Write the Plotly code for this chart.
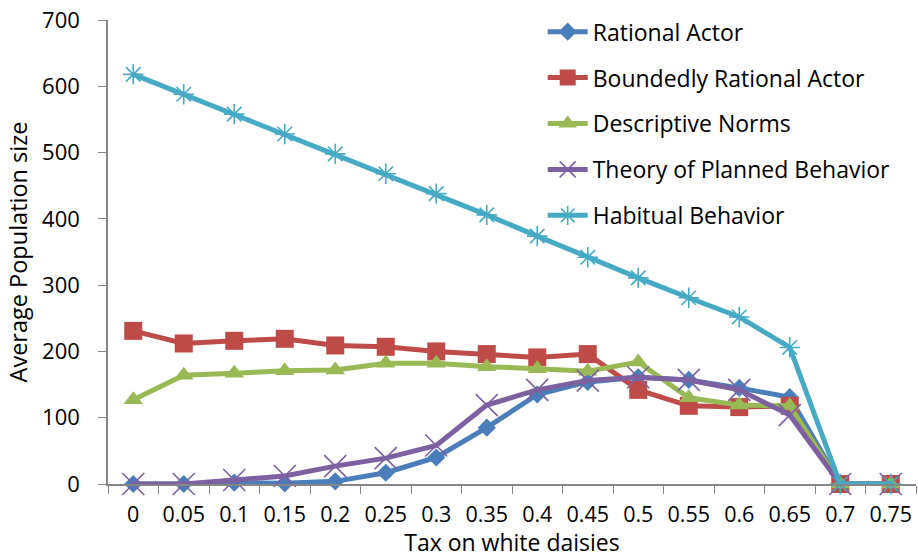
import plotly.graph_objects as go

# Tax levels (category axis)
tax = ["0", "0.05", "0.1", "0.15", "0.2", "0.25", "0.3", "0.35",
       "0.4", "0.45", "0.5", "0.55", "0.6", "0.65", "0.7", "0.75"]

# Average population size for each behaviour model
rational_actor = [0, 0, 2, 1, 4, 17, 40, 85, 135, 154, 161, 157, 145, 131, 0, 0]
boundedly_rational = [231, 212, 216, 219, 209, 207, 200, 196, 191, 196, 142, 118, 116, 118, 0, 0]
descriptive_norms = [127, 164, 167, 171, 172, 182, 182, 177, 174, 170, 184, 130, 119, 118, 0, 0]
planned_behavior = [0, 0, 6, 12, 27, 39, 58, 119, 142, 156, 161, 157, 142, 104, 0, 0]
habitual_behavior = [618, 588, 558, 528, 498, 468, 438, 406, 374, 342, 311, 281, 252, 206, 0, 0]

FONT = "Open Sans"
BLACK = "#000000"
AXIS_GRAY = "#868686"

series = [
    ("Rational Actor", rational_actor, "#4A7EBB", "diamond", 14),
    ("Boundedly Rational Actor", boundedly_rational, "#BE4B48", "square", 18),
    ("Descriptive Norms", descriptive_norms, "#98B954", "triangle-up", 17),
    ("Theory of Planned Behavior", planned_behavior, "#7D60A0", "x-thin", 22),
    ("Habitual Behavior", habitual_behavior, "#46AAC5", "asterisk", 17),
]

fig = go.Figure()
for i, (name, vals, color, symbol, size) in enumerate(series):
    thin = symbol in ("x-thin", "asterisk")
    fig.add_trace(go.Scatter(
        x=tax, y=vals, name=name, mode="lines+markers",
        legendgroup=f"g{i}",
        line=dict(color=color, width=5),
        marker=dict(symbol=symbol, size=size, color=color,
                    line=dict(color=color, width=1.6 if thin else 0)),
        cliponaxis=False,
    ))

fig.update_layout(
    width=918, height=558,
    margin=dict(l=108, r=2, t=20, b=74),
    paper_bgcolor="white", plot_bgcolor="white",
    font=dict(family=FONT, size=22, color=BLACK),
    showlegend=True,
    legend=dict(
        x=0.538, y=1.021, xanchor="left", yanchor="top",
        font=dict(family=FONT, size=23, color=BLACK),
        bgcolor="rgba(0,0,0,0)", traceorder="grouped", tracegroupgap=13,
        itemwidth=40,
    ),
    xaxis=dict(
        type="category", range=[-0.5, 15.5], automargin=False,
        showline=True, linecolor=AXIS_GRAY, linewidth=1.5,
        ticks="outside", tickson="boundaries", ticklen=8, tickcolor=AXIS_GRAY,
        showgrid=False, zeroline=False, ticklabelstandoff=10, tickangle=0,
        tickfont=dict(family=FONT, size=21.5, color=BLACK),
        title=dict(text="Tax on white daisies", standoff=8,
                   font=dict(family=FONT, size=23, color=BLACK)),
    ),
    yaxis=dict(
        range=[0, 700], tickvals=[0, 100, 200, 300, 400, 500, 600, 700],
        automargin=False,
        showline=True, linecolor=AXIS_GRAY, linewidth=1.5,
        ticks="outside", ticklen=8, tickcolor=AXIS_GRAY,
        showgrid=False, zeroline=False, ticklabelstandoff=14,
        tickfont=dict(family=FONT, size=22, color=BLACK),
        title=dict(text="Average Population size", standoff=8,
                   font=dict(family=FONT, size=23.5, color=BLACK)),
    ),
)

fig.write_html("out.html")
